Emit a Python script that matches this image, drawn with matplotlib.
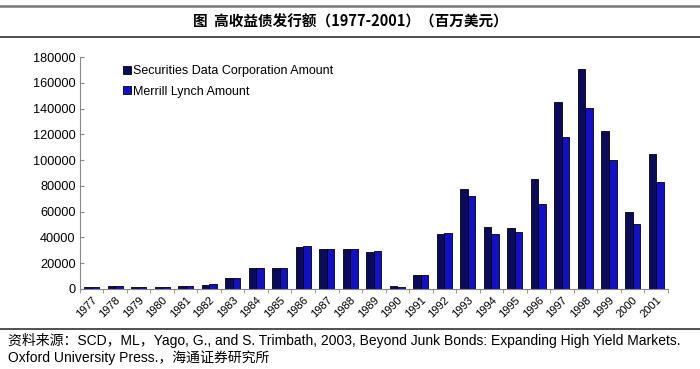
import numpy as np
import matplotlib
matplotlib.use("Agg")
import matplotlib.pyplot as plt
from matplotlib.lines import Line2D

plt.rcParams['font.family'] = ['Liberation Sans', 'Noto Sans CJK SC', 'DejaVu Sans']

# Data (million USD)
years = [str(y) for y in range(1977, 2002)]
sdc_amount = [1500, 2500, 1500, 1400, 2500, 3000, 8500, 16000, 16000, 32500,
              31000, 31000, 28500, 2500, 10500, 42500, 78000, 48300, 47600, 85600,
              145000, 170500, 122300, 59700, 105000]
ml_amount = [1200, 2500, 1400, 1400, 2500, 3500, 8500, 16000, 16000, 33500,
             31000, 31000, 29500, 1400, 10500, 43500, 72000, 42400, 44500, 65900,
             118000, 140700, 99800, 50700, 83300]
series_names = ['Securities Data Corporation Amount', 'Merrill Lynch Amount']
yticks = list(range(0, 180001, 20000))

c_sdc = '#0b0b5c'
c_ml = '#1010c8'

fig = plt.figure(figsize=(7, 3.69), dpi=100)
ax = fig.add_axes([0.114, 0.217, 0.840, 0.628])

x = np.arange(len(years))
w = 0.32
ax.bar(x - w / 2, sdc_amount, w, color=c_sdc, edgecolor='black', linewidth=0.6)
ax.bar(x + w / 2, ml_amount, w, color=c_ml, edgecolor='black', linewidth=0.6)

ax.set_xlim(-0.5, len(years) - 0.5)
ax.set_ylim(0, 180000)
ax.set_yticks(yticks)
ax.set_yticklabels([str(v) for v in yticks], fontsize=9.2)
ax.set_xticks(x)
ax.set_xticklabels(years, rotation=45, fontsize=8, ha='right', rotation_mode='anchor')
ax.tick_params(axis='x', length=0, pad=4)
ax.set_xticks(np.arange(-0.5, len(years)), minor=True)
ax.tick_params(axis='x', which='minor', length=3, direction='out', color='#888888')
ax.tick_params(axis='y', length=3, direction='in', color='#888888', pad=3)
for s in ['top', 'right']:
    ax.spines[s].set_visible(False)
ax.spines['left'].set_color('#888888')
ax.spines['bottom'].set_color('#888888')

handles = [Line2D([], [], marker='s', linestyle='none', markersize=6,
                  markerfacecolor=c, markeredgecolor='black', markeredgewidth=0.6)
           for c in (c_sdc, c_ml)]
ax.legend(handles, series_names, loc='upper left', bbox_to_anchor=(0.05, 1.015),
          frameon=False, fontsize=9, handletextpad=0.0, labelspacing=0.7,
          handlelength=1.0)

# title and rules
fig.add_artist(Line2D([0.0, 1.0], [0.984, 0.984], color='#777777', lw=1.8))
fig.add_artist(Line2D([0.0, 1.0], [0.900, 0.900], color='#333333', lw=1.2))
fig.text(0.5, 0.942, '图  高收益债发行额（1977-2001）（百万美元）', ha='center', va='center',
         fontsize=10.5, fontweight='bold', family=['Noto Sans CJK SC', 'DejaVu Sans'])

# source
fig.add_artist(Line2D([0.0, 1.0], [0.108, 0.108], color='#333333', lw=1.2))
fig.text(0.012, 0.077, '资料来源：SCD，ML，Yago, G., and S. Trimbath, 2003, Beyond Junk Bonds: Expanding High Yield Markets.',
         fontsize=10, va='center', family=['Liberation Sans', 'Noto Sans CJK SC'])
fig.text(0.012, 0.030, 'Oxford University Press.，海通证券研究所',
         fontsize=10, va='center', family=['Liberation Sans', 'Noto Sans CJK SC'])

fig.savefig('out.png', dpi=100)
